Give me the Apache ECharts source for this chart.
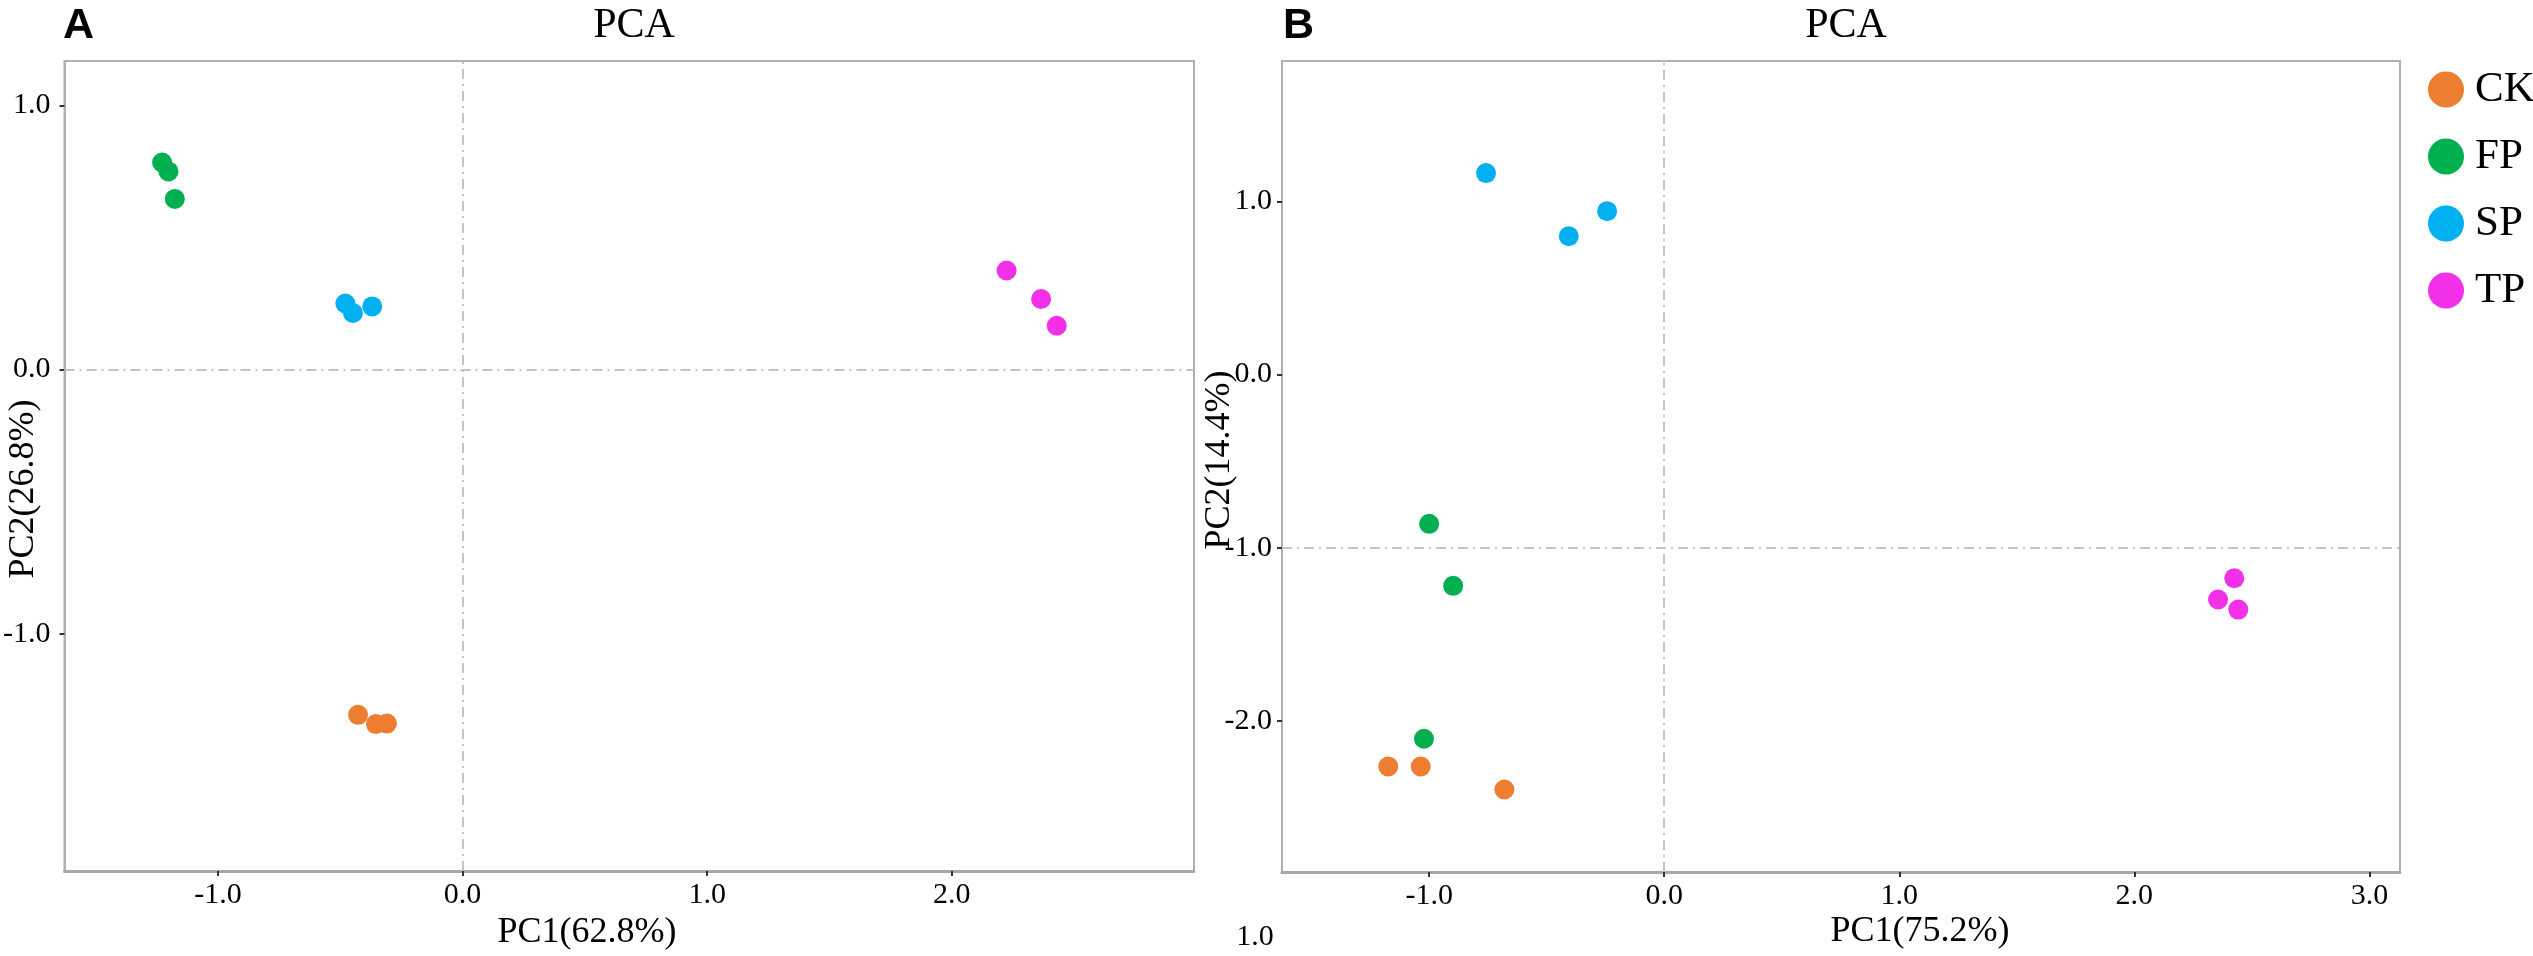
<!DOCTYPE html>
<html>
<head>
    <meta charset="UTF-8">
    <title>PCA</title>
    <script src="https://cdn.jsdelivr.net/npm/echarts@6/dist/echarts.min.js"></script>
    <style>
        html, body { margin: 0; padding: 0; background: #ffffff; }
        #chart { width: 2533px; height: 956px; }
    </style>
</head>
<body>
<div id="chart"></div>
<script>
    // groups and colours
    const groups = ['CK', 'FP', 'SP', 'TP'];
    const groupColors = ['#ED7D31', '#00B050', '#00B0F0', '#F230E8'];

    // panel A: [PC1, PC2] per sample
    const pointsA_CK = [[-0.427, -1.307], [-0.354, -1.342], [-0.309, -1.340]];
    const pointsA_FP = [[-1.228, 0.784], [-1.202, 0.750], [-1.176, 0.646]];
    const pointsA_SP = [[-0.479, 0.250], [-0.448, 0.214], [-0.369, 0.239]];
    const pointsA_TP = [[2.224, 0.375], [2.365, 0.267], [2.429, 0.166]];

    // panel B
    const pointsB_CK = [[-1.174, -2.263], [-1.036, -2.263], [-0.680, -2.396]];
    const pointsB_FP = [[-1.000, -0.862], [-0.898, -1.220], [-1.022, -2.103]];
    const pointsB_SP = [[-0.758, 1.163], [-0.406, 0.798], [-0.243, 0.943]];
    const pointsB_TP = [[2.425, -1.176], [2.356, -1.299], [2.442, -1.357]];

    // tick labels
    const xTicksA = [-1, 0, 1, 2];
    const yTicksA = [-1, 0, 1];
    const xTicksB = [-1, 0, 1, 2, 3];
    const yTicksB = [-2, -1, 0, 1];

    // axis ranges
    const xRangeA = [-1.627, 2.99];
    const yRangeA = [-1.898, 1.168];
    const xRangeB = [-1.626, 3.13];
    const yRangeB = [-2.872, 1.81];

    // reference lines (x, y) in each panel
    const refA = [0, 0];
    const refB = [0, -1];

    const serif = 'Liberation Serif, Times New Roman, serif';
    const fmt = v => Number(v).toFixed(1);

    function makeX(gridIndex, range, ticks) {
        return {
            gridIndex: gridIndex,
            type: 'value',
            min: range[0],
            max: range[1],
            axisLine: { show: true, onZero: false, lineStyle: { color: '#a8a8a8', width: 3 } },
            axisTick: { show: true, length: 5, customValues: ticks, lineStyle: { color: '#333', width: 2 } },
            axisLabel: { customValues: ticks, formatter: fmt, fontFamily: serif, fontSize: 30, color: '#000', margin: 9 },
            splitLine: { show: false }
        };
    }

    function makeY(gridIndex, range, ticks, margin) {
        return {
            gridIndex: gridIndex,
            type: 'value',
            min: range[0],
            max: range[1],
            axisLine: { show: true, onZero: false, lineStyle: { color: '#b0b0b0', width: 2 } },
            axisTick: { show: true, length: 5, customValues: ticks, lineStyle: { color: '#333', width: 2 } },
            axisLabel: { customValues: ticks, formatter: fmt, fontFamily: serif, fontSize: 30, color: '#000', margin: margin },
            splitLine: { show: false }
        };
    }

    function refLine(ref) {
        return {
            silent: true,
            symbol: 'none',
            label: { show: false },
            lineStyle: { color: '#c4c4c4', width: 2, type: [10, 5, 2, 5] },
            data: [{ xAxis: ref[0] }, { yAxis: ref[1] }]
        };
    }

    const seriesA = [pointsA_CK, pointsA_FP, pointsA_SP, pointsA_TP];
    const seriesB = [pointsB_CK, pointsB_FP, pointsB_SP, pointsB_TP];

    const series = [];
    [seriesA, seriesB].forEach((panel, p) => {
        panel.forEach((pts, i) => {
            const s = {
                name: groups[i],
                type: 'scatter',
                xAxisIndex: p,
                yAxisIndex: p,
                symbolSize: 20,
                itemStyle: { color: groupColors[i], opacity: 1 },
                data: pts
            };
            if (i === 0) s.markLine = refLine(p === 0 ? refA : refB);
            series.push(s);
        });
    });

    const myChart = echarts.init(document.getElementById('chart'));
    const option = {
        animation: false,
        color: groupColors,
        title: [
            { text: 'PCA', left: 629, top: 0, textAlign: 'center',
              textStyle: { fontFamily: serif, fontSize: 42, fontWeight: 'normal', color: '#000' } },
            { text: 'PCA', left: 1841, top: 0, textAlign: 'center',
              textStyle: { fontFamily: serif, fontSize: 42, fontWeight: 'normal', color: '#000' } },
            { text: 'A', left: 58, top: 0,
              textStyle: { fontFamily: 'Liberation Sans, Arial, sans-serif', fontSize: 43, fontWeight: 'bold', color: '#000' } },
            { text: 'B', left: 1278, top: 0,
              textStyle: { fontFamily: 'Liberation Sans, Arial, sans-serif', fontSize: 43, fontWeight: 'bold', color: '#000' } }
        ],
        legend: {
            data: groups,
            orient: 'vertical',
            left: 2423,
            top: 63,
            icon: 'circle',
            itemWidth: 36,
            itemHeight: 36,
            itemGap: 24,
            textStyle: { fontFamily: serif, fontSize: 43, color: '#000', padding: [0, 0, 0, 6] }
        },
        grid: [
            { left: 63, top: 61, width: 1131, height: 810, show: true, borderColor: '#b0b0b0', borderWidth: 2 },
            { left: 1282, top: 61, width: 1118, height: 811, show: true, borderColor: '#b0b0b0', borderWidth: 2 }
        ],
        xAxis: [makeX(0, xRangeA, xTicksA), makeX(1, xRangeB, xTicksB)],
        yAxis: [makeY(0, yRangeA, yTicksA, 14), makeY(1, yRangeB, yTicksB, 10)],
        graphic: [
            { type: 'text', x: 587, y: 933,
              style: { text: 'PC1(62.8%)', fill: '#000', font: '36px ' + serif, align: 'center', verticalAlign: 'middle' } },
            { type: 'text', x: 1920, y: 932,
              style: { text: 'PC1(75.2%)', fill: '#000', font: '36px ' + serif, align: 'center', verticalAlign: 'middle' } },
            { type: 'text', x: 24, y: 489, rotation: Math.PI / 2,
              style: { text: 'PC2(26.8%)', fill: '#000', font: '36px ' + serif, align: 'center', verticalAlign: 'middle' } },
            { type: 'text', x: 1220, y: 460, rotation: Math.PI / 2,
              style: { text: 'PC2(14.4%)', fill: '#000', font: '36px ' + serif, align: 'center', verticalAlign: 'middle' } },
            { type: 'text', x: 1255, y: 937,
              style: { text: '1.0', fill: '#000', font: '30px ' + serif, align: 'center', verticalAlign: 'middle' } }
        ],
        series: series
    };
    myChart.setOption(option);
</script>
</body>
</html>
